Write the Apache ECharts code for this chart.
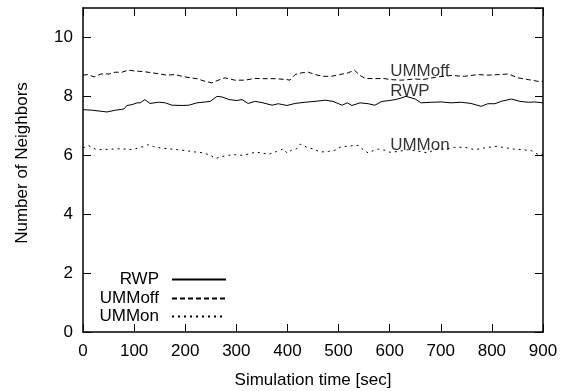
<!DOCTYPE html>
<html>
<head>
<meta charset="utf-8">
<script src="https://cdn.jsdelivr.net/npm/echarts@6/dist/echarts.min.js"></script>
<style>
  html, body { margin: 0; padding: 0; background: #fff; }
  #chart { width: 564px; height: 391px; }
</style>
</head>
<body>
<div id="chart"></div>
<script>
// values (time in sec, number of neighbors)
const rwpTime = [0, 18, 37, 47, 63, 80, 86, 96, 106, 112, 121, 131, 148, 161, 174, 194, 207, 223, 239, 249, 262, 272, 286, 301, 311, 323, 337, 352, 370, 382, 399, 415, 434, 454, 474, 489, 507, 517, 526, 542, 558, 571, 585, 601, 616, 632, 650, 661, 681, 701, 720, 740, 759, 779, 792, 806, 818, 838, 855, 871, 884, 900];
const rwpValues = [7.55, 7.53, 7.49, 7.47, 7.53, 7.57, 7.69, 7.72, 7.78, 7.78, 7.89, 7.76, 7.80, 7.78, 7.70, 7.69, 7.70, 7.78, 7.81, 7.83, 8.00, 7.98, 7.89, 7.86, 7.89, 7.76, 7.83, 7.78, 7.70, 7.75, 7.69, 7.76, 7.80, 7.83, 7.87, 7.83, 7.70, 7.78, 7.69, 7.78, 7.75, 7.70, 7.83, 7.86, 7.91, 8.00, 7.91, 7.78, 7.80, 7.81, 7.78, 7.80, 7.76, 7.66, 7.75, 7.75, 7.83, 7.91, 7.83, 7.80, 7.81, 7.78];

const offTime = [0, 9, 22, 35, 51, 63, 76, 89, 102, 119, 135, 151, 164, 180, 194, 210, 223, 239, 252, 265, 278, 297, 317, 336, 356, 376, 399, 405, 415, 428, 441, 454, 470, 486, 502, 519, 531, 542, 552, 571, 588, 601, 623, 650, 665, 690, 720, 746, 773, 790, 816, 832, 851, 871, 890, 900];
const offValues = [8.72, 8.74, 8.66, 8.76, 8.76, 8.82, 8.82, 8.89, 8.86, 8.84, 8.80, 8.76, 8.72, 8.74, 8.68, 8.63, 8.60, 8.51, 8.46, 8.55, 8.63, 8.55, 8.55, 8.61, 8.60, 8.60, 8.57, 8.55, 8.74, 8.80, 8.82, 8.74, 8.68, 8.68, 8.74, 8.80, 8.89, 8.71, 8.61, 8.60, 8.61, 8.57, 8.55, 8.59, 8.57, 8.65, 8.71, 8.68, 8.74, 8.72, 8.74, 8.76, 8.63, 8.57, 8.51, 8.51];

const onTime = [0, 11, 24, 37, 57, 76, 96, 109, 119, 128, 138, 151, 168, 184, 200, 220, 236, 249, 259, 272, 285, 298, 311, 327, 337, 350, 363, 379, 392, 399, 408, 418, 425, 438, 451, 464, 480, 493, 506, 519, 529, 539, 548, 558, 568, 578, 591, 601, 616, 636, 655, 675, 688, 711, 727, 747, 766, 786, 806, 822, 842, 858, 877, 890, 900];
const onValues = [6.25, 6.33, 6.21, 6.19, 6.21, 6.22, 6.19, 6.25, 6.30, 6.36, 6.30, 6.25, 6.22, 6.19, 6.16, 6.11, 6.08, 6.00, 5.89, 5.96, 6.00, 6.02, 6.00, 6.05, 6.11, 6.08, 6.03, 6.13, 6.22, 6.08, 6.17, 6.22, 6.38, 6.27, 6.21, 6.11, 6.13, 6.17, 6.30, 6.30, 6.33, 6.33, 6.19, 6.08, 6.16, 6.21, 6.17, 6.10, 6.13, 6.19, 6.14, 6.08, 6.19, 6.22, 6.27, 6.27, 6.19, 6.25, 6.30, 6.27, 6.21, 6.19, 6.16, 6.03, 6.03];

const seriesNames = ["RWP", "UMMoff", "UMMon"];
const labelX = [601, 601, 601];
const labelY = [8.16, 8.84, 6.34];
const labelText = ["RWP", "UMMoff", "UMMon"];

const FONT = "Liberation Sans";
const FS = 17;

const pairs = (xs, ys) => xs.map((x, i) => [x, ys[i]]);

const chart = echarts.init(document.getElementById("chart"), null, { renderer: "canvas" });

const lineSeries = (name, data, dash) => ({
  name,
  type: "line",
  data,
  symbol: "none",
  silent: true,
  animation: false,
  lineStyle: { color: "#000", width: 1, type: dash },
  itemStyle: { color: "#000" },
});

const legendTops = [271, 290, 308];
const legends = seriesNames.map((n, i) => ({
  data: [n],
  right: 564 - 227,
  top: legendTops[i],
  padding: 0,
  align: "right",
  orient: "vertical",
  itemWidth: 54,
  itemHeight: 20,
  selectedMode: false,
  itemStyle: { color: "rgba(0,0,0,0)", borderColor: "rgba(0,0,0,0)", borderWidth: 0 },
  textStyle: { fontFamily: FONT, fontSize: FS, color: "#000", padding: [0, 8, 0, 0] },
}));

const frame = { show: true, onZero: false, lineStyle: { color: "#000", width: 1.5 } };
const ticks = { show: true, inside: true, length: 8, lineStyle: { color: "#000", width: 1 } };

chart.setOption({
  animation: false,
  backgroundColor: "#fff",
  textStyle: { fontFamily: FONT },
  grid: { left: 83, right: 21, top: 8, bottom: 59, outerBoundsMode: "none", containLabel: false },
  legend: legends,
  xAxis: [
    {
      type: "value", min: 0, max: 900, interval: 100, position: "bottom",
      name: "Simulation time [sec]", nameLocation: "middle", nameGap: 40,
      nameTextStyle: { fontFamily: FONT, fontSize: FS, color: "#000" },
      axisLine: frame, axisTick: ticks,
      axisLabel: { fontFamily: FONT, fontSize: FS, color: "#000", margin: 11 },
      splitLine: { show: false },
    },
    {
      type: "value", min: 0, max: 900, interval: 100, position: "top",
      axisLine: frame, axisTick: ticks,
      axisLabel: { show: false },
      splitLine: { show: false },
    },
  ],
  yAxis: [
    {
      type: "value", min: 0, max: 11, interval: 2, position: "left",
      name: "Number of Neighbors", nameLocation: "middle", nameGap: 52,
      nameTextStyle: { fontFamily: FONT, fontSize: FS, color: "#000", padding: [0, 0, 0, 14] },
      axisLine: frame, axisTick: ticks,
      axisLabel: { fontFamily: FONT, fontSize: FS, color: "#000", margin: 10, showMaxLabel: false,
        formatter: (v) => (v > 10 ? "" : String(v)) },
      splitLine: { show: false },
    },
    {
      type: "value", min: 0, max: 11, interval: 2, position: "right",
      axisLine: frame, axisTick: ticks,
      axisLabel: { show: false },
      splitLine: { show: false },
    },
  ],
  series: [
    lineSeries("RWP", pairs(rwpTime, rwpValues), "solid"),
    lineSeries("UMMoff", pairs(offTime, offValues), [5, 3]),
    lineSeries("UMMon", pairs(onTime, onValues), [2, 4]),
    {
      name: "labels",
      type: "scatter",
      data: labelX.map((x, i) => ({ value: [x, labelY[i]], name: labelText[i] })),
      symbolSize: 0,
      silent: true,
      label: {
        show: true, position: "inside", align: "left", verticalAlign: "middle",
        formatter: (p) => p.name, fontFamily: FONT, fontSize: FS, color: "#000",
      },
    },
  ],
});
</script>
</body>
</html>
